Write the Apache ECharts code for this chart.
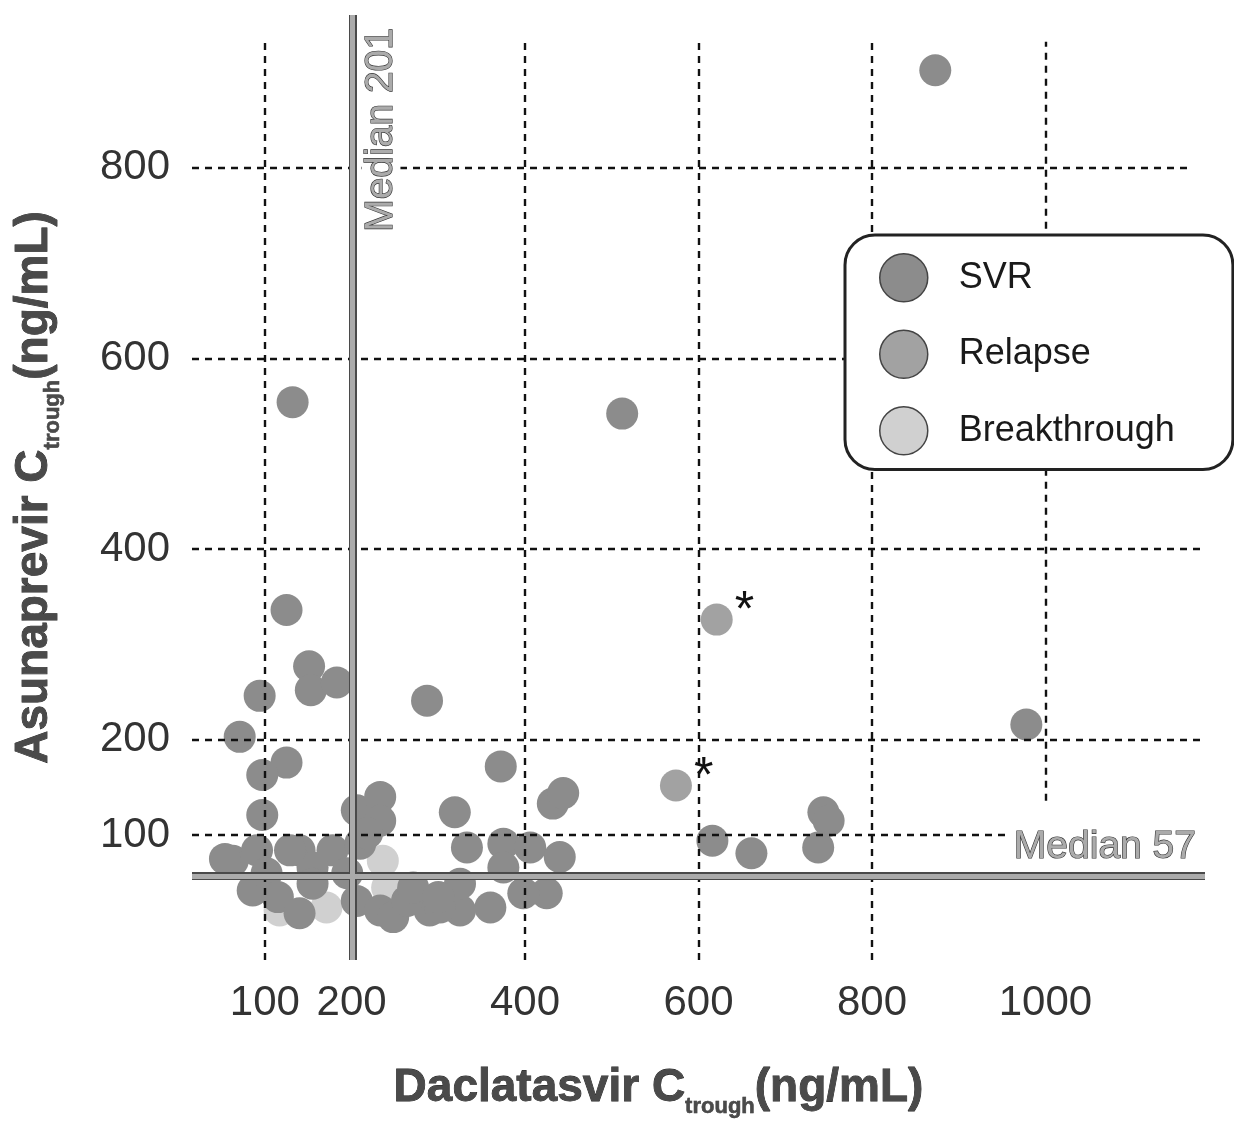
<!DOCTYPE html>
<html>
<head>
<meta charset="utf-8">
<script src="https://cdn.jsdelivr.net/npm/echarts@6/dist/echarts.min.js"></script>
<style>html,body{margin:0;padding:0;background:#fff;}#chart{width:1234px;height:1126px;}</style>
</head>
<body>
<div id="chart"></div>
<script>
// ---- data ----
const svrPoints = [
  [873,902],[132,554],[512,542],[125,336],[151,277],[153,252],[183,260],[94,246],
  [287,241],[71,203],[125,176],[97,163],[372,172],[978,216],[97,121],[319,124],
  [333,87],[432,133],[444,144],[616,94],[661,81],[744,124],[750,115],[738,87],
  [63,73],[91,84],[86,42],[102,60],[115,35],[140,84],[178,84],[155,66],[140,18],
  [206,126],[233,140],[233,115],[210,91],[218,102],[206,31],[233,21],[248,14],
  [375,91],[406,87],[440,77],[375,66],[425,39],[398,39],[360,24],[325,21],[325,49],
  [290,21],[264,31],[195,60],[271,45],[302,24],[155,49],[129,84],[54,75],[300,35]
];
const relapsePoints = [[621,326],[574,152]];
const breakthroughPoints = [[117,21],[171,24],[236,73],[241,45]];
const seriesNames = ['SVR','Relapse','Breakthrough'];
const xTicks = [100,200,400,600,800,1000];
const yTicks = [100,200,400,600,800];
const medianX = 201;
const medianY = 57;

// ---- layout ----
const xMin = 16, xMax = 1184, yMin = -31, yMax = 960;
const hGridEnd = {800:1167, 600:770, 400:xMax, 200:xMax, 100:954};
const vGridBottom = {100:yMin, 200:yMin, 400:yMin, 600:yMin, 800:yMin, 1000:136};
const vGridTop = 932;
const FONT = '"Liberation Sans", Arial, Helvetica, sans-serif';

const gridLines = [];
yTicks.forEach(v => gridLines.push([{coord:[xMin, v]}, {coord:[hGridEnd[v], v]}]));
xTicks.forEach(v => gridLines.push([{coord:[v, vGridBottom[v]]}, {coord:[v, vGridTop]}]));

const richTitle = {
  b: {fontSize:46, fontWeight:'bold', color:'#4a4a4a', fontFamily:FONT, textBorderColor:'#222', textBorderWidth:0.8},
  s: {fontSize:22, fontWeight:'bold', color:'#4a4a4a', fontFamily:FONT, padding:[38,0,0,0], verticalAlign:'bottom', textBorderColor:'#222', textBorderWidth:0.5}
};

const medianLabel = {
  fontSize:39, fontFamily:FONT, color:'#ababab', textBorderColor:'#333', textBorderWidth:1.2,
  backgroundColor:'#fff'
};

const option = {
  backgroundColor:'#fff',
  animation:false,
  grid:{left:192, right:29, top:15, bottom:166, containLabel:false, outerBoundsMode:'none'},
  legend:{
    data:seriesNames, orient:'vertical', left:845, top:235, z:20,
    icon:'circle', itemWidth:48, itemHeight:48, itemGap:27,
    padding:[18,58,14,34],
    backgroundColor:'#fff', borderColor:'#222', borderWidth:3, borderRadius:30,
    itemStyle:{borderColor:'#444', borderWidth:1.5},
    textStyle:{fontSize:36, fontFamily:FONT, color:'#1a1a1a', padding:[0,0,0,26]},
    selectedMode:false
  },
  xAxis:{
    type:'value', min:xMin, max:xMax,
    axisLine:{show:false}, axisTick:{show:false}, splitLine:{show:false},
    axisLabel:{customValues:xTicks, formatter:v => String(v), fontSize:42, color:'#333', fontFamily:FONT, margin:22},
    name:'{b|Daclatasvir C}{s|trough}{b|(ng/mL)}',
    nameLocation:'middle', nameGap:98,
    nameTextStyle:{rich:richTitle, padding:[0,80,0,0]}
  },
  yAxis:{
    type:'value', min:yMin, max:yMax,
    axisLine:{show:false}, axisTick:{show:false}, splitLine:{show:false},
    axisLabel:{customValues:yTicks, formatter:v => String(v), fontSize:42, color:'#333', fontFamily:FONT, margin:22},
    name:'{b|Asunaprevir C}{s|trough}{b|(ng/mL)}',
    nameLocation:'middle', nameRotate:90, nameGap:128,
    nameTextStyle:{rich:richTitle}
  },
  series:[
    {
      type:'scatter', data:[], silent:true, z:1,
      markLine:{silent:true, symbol:['none','none'], animation:false,
        lineStyle:{color:'#111', width:2.4, type:[7,6]}, label:{show:false},
        data:gridLines}
    },
    {
      name:'Breakthrough', type:'scatter', data:breakthroughPoints, z:2,
      symbolSize:32, itemStyle:{color:'#d0d0d0', opacity:1}, emphasis:{disabled:true}
    },
    {
      name:'SVR', type:'scatter', data:svrPoints, z:3,
      symbolSize:32, itemStyle:{color:'#8c8c8c', opacity:1}, emphasis:{disabled:true}
    },
    {
      name:'Relapse', type:'scatter', data:relapsePoints, z:3,
      symbolSize:32, itemStyle:{color:'#a2a2a2', opacity:1}, emphasis:{disabled:true},
      label:{show:true, formatter:'*', position:'right', distance:2, offset:[0,-7],
        fontSize:50, color:'#111', fontFamily:FONT}
    },
    {
      type:'scatter', data:[], silent:true, z:5,
      markLine:{silent:true, symbol:['none','none'], animation:false,
        lineStyle:{color:'#4a4a4a', width:8, type:'solid'}, label:{show:false},
        data:[
          [{coord:[medianX, yMin]}, {coord:[medianX, yMax]}],
          [{coord:[xMin, medianY]}, {coord:[xMax, medianY]}]
        ]}
    },
    {
      type:'scatter', data:[], silent:true, z:6,
      markLine:{silent:true, symbol:['none','none'], animation:false,
        lineStyle:{color:'#ababab', width:5, type:'solid'},
        data:[
          [{coord:[medianX, yMin]}, {coord:[medianX, yMax],
            label:Object.assign({show:true, formatter:'Median ' + medianX, position:'insideEndBottom', distance:9, padding:[0,4,0,4]}, medianLabel)}],
          [{coord:[xMin, medianY]}, {coord:[xMax, medianY],
            label:Object.assign({show:true, formatter:'Median ' + medianY, position:'insideEndTop', distance:9, padding:[0,0,0,6]}, medianLabel)}]
        ]}
    }
  ]
};

const chart = echarts.init(document.getElementById('chart'), null, {renderer:'canvas'});
chart.setOption(option);
</script>
</body>
</html>
